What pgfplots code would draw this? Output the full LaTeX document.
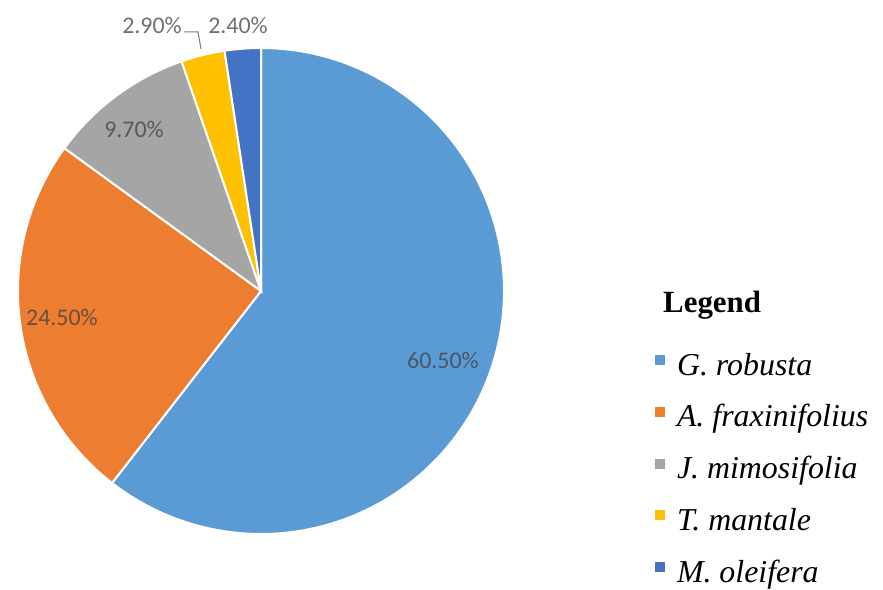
\documentclass[border=0pt]{standalone}
\usepackage{fontspec}
\setmainfont{Liberation Serif}
\newfontfamily\lblfont{Carlito}
\usepackage{pgfplots}
\pgfplotsset{compat=1.18}

\definecolor{pieblue}{HTML}{5B9BD5}
\definecolor{pieorange}{HTML}{ED7D31}
\definecolor{piegray}{HTML}{A5A5A5}
\definecolor{pieyellow}{HTML}{FFC000}
\definecolor{piedblue}{HTML}{4472C4}
\definecolor{lbl}{RGB}{64,64,64}

% one slice: #1 share before it (%), #2 its share (%), #3 colour
% slices run clockwise from 12 o'clock, centre (261,291), radius 243 px
\newcommand\pieslice[3]{%
  \pgfmathsetmacro\angA{90-3.6*(#1+#2)}%
  \pgfmathsetmacro\angB{90-3.6*#1}%
  \edef\doslice{\noexpand\addplot[fill=#3, draw=white, line width=2bp,
    domain=\angA:\angB, samples=120]
    ({261+243*cos(x)},{291-243*sin(x)}) -- (axis cs:261,291) -- cycle;}%
  \doslice}

\begin{document}
\begin{tikzpicture}
\begin{axis}[
    width=883bp, height=586bp, scale only axis,
    xmin=0, xmax=883, ymin=0, ymax=586, y dir=reverse,
    hide axis, clip=false,
    legend image code/.code={\fill[#1, draw=none] (0bp,3bp) rectangle (10bp,13bp);},
    legend style={at={(axis cs:655,353)}, anchor=north west,
      draw=none, fill=none, inner sep=0pt, outer sep=0pt,
      column sep=12bp, row sep=21.75bp,
      nodes={inner sep=0pt, text height=22bp, text depth=8bp},
      font=\fontsize{32}{38}\selectfont\itshape},
    legend cell align=left,
  ]
  \pieslice{0}{60.5}{pieblue}      \addlegendentry{G. robusta}
  \pieslice{60.5}{24.5}{pieorange} \addlegendentry{A. fraxinifolius}
  \pieslice{85}{9.7}{piegray}      \addlegendentry{J. mimosifolia}
  \pieslice{94.7}{2.9}{pieyellow}  \addlegendentry{T. mantale}
  \pieslice{97.6}{2.4}{piedblue}   \addlegendentry{M. oleifera}

  % leader line of the 2.90% label
  \addplot[forget plot, color=lbl!70, line width=1bp] coordinates {(184,32) (198,32) (201,49)};

  \begin{scope}[every node/.style={anchor=base, text=lbl, text opacity=0.75,
      font=\lblfont\fontsize{24}{28}\selectfont}]
    \node at (axis cs:443,368) {60.50\%};
    \node at (axis cs:62,325) {24.50\%};
    \node at (axis cs:134,137) {9.70\%};
    \node at (axis cs:152,33) {2.90\%};
    \node at (axis cs:238,33) {2.40\%};
  \end{scope}
  \node[anchor=base west, inner sep=0pt, font=\fontsize{31}{36}\selectfont\bfseries]
    at (axis cs:663,312) {Legend};
  \path (rel axis cs:0,0) rectangle (rel axis cs:1,1);
\end{axis}
\end{tikzpicture}
\end{document}
